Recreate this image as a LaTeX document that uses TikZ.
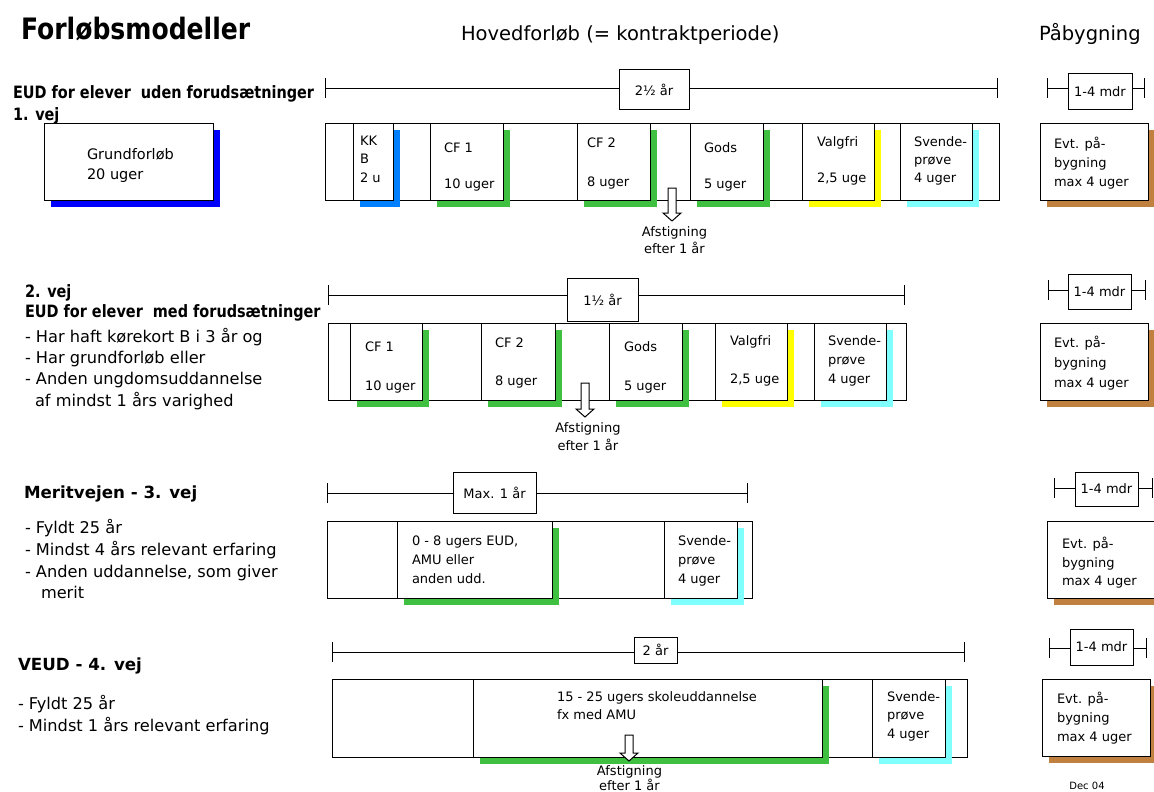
\documentclass[tikz,border=0pt]{standalone}
\usepackage{fontspec}
\setmainfont{DejaVu Sans}
\newfontfamily\hdfont{DejaVu Sans}[FakeStretch=0.85]
\usetikzlibrary{arrows.meta,shadows}
\definecolor{cgreen}{RGB}{64,192,64}
\definecolor{cblue}{RGB}{0,0,255}
\definecolor{cazure}{RGB}{0,128,255}
\definecolor{cyellow}{RGB}{255,255,0}
\definecolor{ccyan}{RGB}{128,255,255}
\definecolor{cbrown}{RGB}{192,128,64}
\tikzset{
  box/.style={draw=black, fill=white, line width=1pt, inner sep=0pt, outer sep=0pt, anchor=north west},
  sh/.style={drop shadow={shadow xshift=7pt, shadow yshift=-7pt, fill=#1, opacity=1}},
  txt/.style={anchor=base west, inner sep=0pt, outer sep=0pt, font=\fontsize{13}{15}\selectfont},
  ctxt/.style={txt, anchor=base},
  lbl/.style={draw=black, fill=white, line width=1pt, inner sep=0pt, font=\fontsize{13}{15}\selectfont},
  spanline/.style={line width=1pt, {Bar[width=20pt]}-{Bar[width=20pt]}},
  arr/.style={draw=black, fill=white, line width=1pt, line join=miter},
  big/.style={font=\fontsize{19.5}{23}\selectfont},
  side/.style={font=\fontsize{16.2}{20}\selectfont},
  hdA/.style={font=\hdfont\bfseries\fontsize{17}{20}\selectfont},
  hdB/.style={font=\bfseries\fontsize{16.7}{20}\selectfont},
  boxtxt/.style={font=\fontsize{14.5}{17}\selectfont}
}
% name, style, x1, y1, x2, y2
\newcommand\rowbox[6]{%
  \pgfmathsetmacro\bw{#5-#3}\pgfmathsetmacro\bh{#6-#4}%
  \node[box,#2,minimum width=\bw pt,minimum height=\bh pt] (#1) at (#3,#4) {};}
\newcommand\tline[5][]{\node[txt,#1] (#2) at (#3,#4) {#5};}
% name, x, ytop, yhead, ytip
\newcommand\dnarrow[5]{%
  \coordinate (#1) at (#2,#3);
  \draw[arr] (#2-4,#3) -- (#2-4,#4) -- (#2-9,#4) -- (#2,#5) -- (#2+9,#4) -- (#2+4,#4) -- (#2+4,#3) -- cycle;}
\begin{document}
\begin{tikzpicture}[x=1pt,y=-1pt]
\useasboundingbox (0,0) rectangle (1154,792);
\clip (0,0) rectangle (1154,792);
\fill[white] (0,0) rectangle (1154,792);

% ---------- headings ----------
\node[txt, font=\hdfont\bfseries\fontsize{29.5}{34}\selectfont] (title) at (21,40) {Forløbsmodeller};
\tline[big]{hhoved}{461}{41}{Hovedforløb (= kontraktperiode)}
\tline[big]{hpaa}{1039}{41}{Påbygning}

% ================= ROW 1 =================
\tline[hdA]{r1h1}{13}{98}{EUD for elever\ \ uden forudsætninger}
\tline[hdA]{r1h2}{13}{120}{1. vej}

\rowbox{gf}{sh=cblue}{44}{123}{213}{200}
\tline[boxtxt]{gft1}{87}{159}{Grundforløb}
\tline[boxtxt]{gft2}{87}{179}{20 uger}

\coordinate (s1a) at (325,88); \coordinate (s1b) at (998,88);
\draw[spanline] (s1a) -- (s1b);
\node[lbl, minimum width=70pt, minimum height=39pt] (l1) at (654,89.5) {2½ år};

\rowbox{o1}{}{325}{123}{999}{200}
\rowbox{kkb}{sh=cazure}{353}{123}{393}{200}
\rowbox{cf1a}{sh=cgreen}{430}{123}{503}{200}
\rowbox{cf2a}{sh=cgreen}{577}{123}{650}{200}
\rowbox{godsa}{sh=cgreen}{690}{123}{763}{200}
\rowbox{valga}{sh=cyellow}{802}{123}{874}{200}
\rowbox{svena}{sh=ccyan}{900}{123}{972}{200}

\tline{kk1}{360}{145}{KK}
\tline{kk2}{360}{163}{B}
\tline{kk3}{360}{182}{2 u}
\tline{a1}{444}{152}{CF 1}
\tline{a2}{444}{188}{10 uger}
\tline{a3}{587}{147}{CF 2}
\tline{a4}{587}{186}{8 uger}
\tline{a5}{704}{152}{Gods}
\tline{a6}{704}{188}{5 uger}
\tline{a7}{817}{146}{Valgfri}
\tline{a8}{817}{182}{2,5 uge}
\tline{a9}{914}{146}{Svende-}
\tline{a10}{914}{164}{prøve}
\tline{a11}{914}{182}{4 uger}

\dnarrow{ar1}{672}{188}{213}{221}
\node[ctxt] (af1a) at (674.5,236) {Afstigning};
\node[ctxt] (af1b) at (674.5,253) {efter 1 år};

\coordinate (p1a) at (1047,88); \coordinate (p1b) at (1145,88);
\draw[spanline] (p1a) -- (p1b);
\node[lbl, minimum width=64pt, minimum height=35pt] (pl1) at (1100,91.5) {1-4 mdr};
\rowbox{pb1}{sh=cbrown}{1040}{123}{1148}{200}
\tline{pb1a}{1054}{148}{Evt. på-}
\tline{pb1b}{1054}{167}{bygning}
\tline{pb1c}{1054}{186}{max 4 uger}

% ================= ROW 2 =================
\tline[hdA]{r2h1}{25}{297}{2. vej}
\tline[hdA]{r2h2}{25}{317}{EUD for elever\ \ med forudsætninger}
\tline[side]{r2b1}{25}{342}{- Har haft kørekort B i 3 år og}
\tline[side]{r2b2}{25}{363}{- Har grundforløb eller}
\tline[side]{r2b3}{25}{384}{- Anden ungdomsuddannelse}
\tline[side]{r2b4}{35}{406}{af mindst 1 års varighed}

\coordinate (s2a) at (328,295); \coordinate (s2b) at (905,295);
\draw[spanline] (s2a) -- (s2b);
\node[lbl, minimum width=71pt, minimum height=43pt] (l2) at (602.5,299.5) {1½ år};

\rowbox{o2}{}{328}{323}{906}{400}
\rowbox{cf1b}{sh=cgreen}{350}{323}{422}{400}
\rowbox{cf2b}{sh=cgreen}{481}{323}{555}{400}
\rowbox{godsb}{sh=cgreen}{609}{323}{682}{400}
\rowbox{valgb}{sh=cyellow}{715}{323}{787}{400}
\rowbox{svenb}{sh=ccyan}{814}{323}{886}{400}

\tline{b1}{365}{351}{CF 1}
\tline{b2}{365}{390}{10 uger}
\tline{b3}{495}{347}{CF 2}
\tline{b4}{495}{385}{8 uger}
\tline{b5}{624}{351}{Gods}
\tline{b6}{624}{390}{5 uger}
\tline{b7}{730}{345}{Valgfri}
\tline{b8}{730}{383}{2,5 uge}
\tline{b9}{828}{345}{Svende-}
\tline{b10}{828}{364}{prøve}
\tline{b11}{828}{383}{4 uger}

\dnarrow{ar2}{585}{383}{409}{417}
\node[ctxt] (af2a) at (588,432) {Afstigning};
\node[ctxt] (af2b) at (588,450) {efter 1 år};

\coordinate (p2a) at (1048,290); \coordinate (p2b) at (1146,290);
\draw[spanline] (p2a) -- (p2b);
\node[lbl, minimum width=63pt, minimum height=35pt] (pl2) at (1099.5,291.5) {1-4 mdr};
\rowbox{pb2}{sh=cbrown}{1040}{323}{1148}{400}
\tline{pb2a}{1054}{347}{Evt. på-}
\tline{pb2b}{1054}{367}{bygning}
\tline{pb2c}{1054}{387}{max 4 uger}

% ================= ROW 3 =================
\tline[hdB]{r3h}{24}{498}{Meritvejen - 3. vej}
\tline[side]{r3b1}{25}{533}{- Fyldt 25 år}
\tline[side]{r3b2}{25}{555}{- Mindst 4 års relevant erfaring}
\tline[side]{r3b3}{25}{577}{- Anden uddannelse, som giver}
\tline[side]{r3b4}{41}{598}{merit}

\coordinate (s3a) at (327,493); \coordinate (s3b) at (748,493);
\draw[spanline] (s3a) -- (s3b);
\node[lbl, minimum width=83pt, minimum height=41pt] (l3) at (494.5,492.5) {Max. 1 år};

\rowbox{o3}{}{327}{521}{752}{598}
\rowbox{eud3}{sh=cgreen}{397}{521}{552}{598}
\rowbox{sven3}{sh=ccyan}{664}{521}{737}{598}
\tline{c1}{412}{545}{0 - 8 ugers EUD,}
\tline{c2}{412}{564}{AMU eller}
\tline{c3}{412}{583}{anden udd.}
\tline{c4}{678}{545}{Svende-}
\tline{c5}{678}{564}{prøve}
\tline{c6}{678}{583}{4 uger}

\coordinate (p3a) at (1054,488); \coordinate (p3b) at (1153,488);
\draw[spanline] (p3a) -- (p3b);
\node[lbl, minimum width=63pt, minimum height=34pt] (pl3) at (1106.5,489) {1-4 mdr};
\rowbox{pb3}{sh=cbrown}{1047}{521}{1170}{598}
\tline{pb3a}{1062}{548}{Evt. på-}
\tline{pb3b}{1062}{567}{bygning}
\tline{pb3c}{1062}{585}{max 4 uger}

% ================= ROW 4 =================
\tline[hdB]{r4h}{18}{670}{VEUD - 4. vej}
\tline[side]{r4b1}{18}{709}{- Fyldt 25 år}
\tline[side]{r4b2}{18}{731}{- Mindst 1 års relevant erfaring}

\coordinate (s4a) at (332,652); \coordinate (s4b) at (965,652);
\draw[spanline] (s4a) -- (s4b);
\node[lbl, minimum width=43pt, minimum height=26pt] (l4) at (655.5,650) {2 år};

\rowbox{o4}{}{332}{679}{967}{757}
\rowbox{skole4}{sh=cgreen}{473}{679}{822}{757}
\rowbox{sven4}{sh=ccyan}{872}{679}{945}{757}
\tline{d1}{557}{701}{15 - 25 ugers skoleuddannelse}
\tline{d2}{557}{719}{fx med AMU}
\tline{d3}{887}{701}{Svende-}
\tline{d4}{887}{719}{prøve}
\tline{d5}{887}{738}{4 uger}

\dnarrow{ar4}{629}{735}{753}{761}
\node[ctxt] (af4a) at (629.5,775) {Afstigning};
\node[ctxt] (af4b) at (629.5,790) {efter 1 år};

\coordinate (p4a) at (1049,648); \coordinate (p4b) at (1147,648);
\draw[spanline] (p4a) -- (p4b);
\node[lbl, minimum width=63pt, minimum height=36pt] (pl4) at (1101.5,647) {1-4 mdr};
\rowbox{pb4}{sh=cbrown}{1042}{679}{1150}{756}
\tline{pb4a}{1057}{703}{Evt. på-}
\tline{pb4b}{1057}{722}{bygning}
\tline{pb4c}{1057}{741}{max 4 uger}

\node[ctxt, font=\fontsize{10}{12}\selectfont] (dec) at (1087,789) {Dec 04};
\end{tikzpicture}
\end{document}
